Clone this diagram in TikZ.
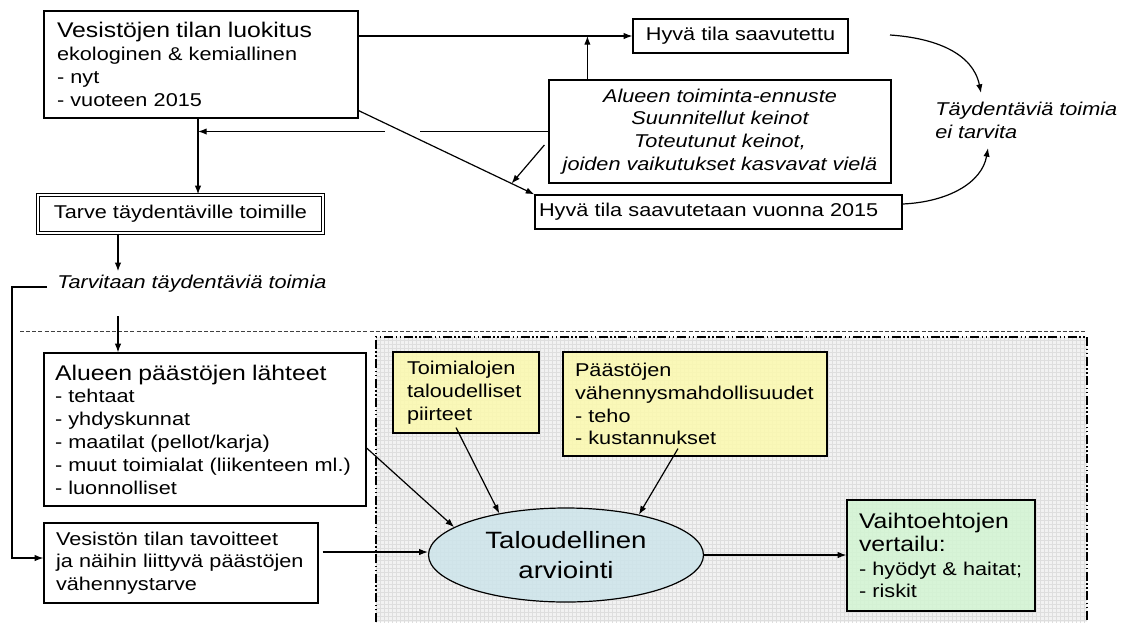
\documentclass[tikz,border=0pt]{standalone}
\usepackage{fontspec}
\setmainfont{Liberation Sans}
\newfontfamily\af[FakeStretch=1.17]{Liberation Sans}
\usetikzlibrary{arrows.meta,calc,shapes.geometric}
\newdimen\px \px=0.75pt
\definecolor{yel}{HTML}{FCFAAE}
\definecolor{grn}{HTML}{D3F5D3}
\definecolor{blu}{HTML}{CDE5EA}
\definecolor{panelbg}{HTML}{F2F2F2}
\definecolor{gridc}{HTML}{DEDEDE}
\newcommand\fbody{\af\fontsize{13.9}{17.1}\selectfont\hyphenpenalty=10000 \exhyphenpenalty=10000 }
\newcommand\ftitle{\fontsize{15.9}{17.1}\selectfont}
\newcommand\fbig{\af\fontsize{17.7}{22.5}\selectfont}
\tikzset{
  box/.style={draw, fill=white, line width=0.9pt, inner ysep=0pt, font=\fbody},
  lbox/.style={box, align=left},
  colbox/.style={lbox, fill=#1, fill opacity=0.85, text opacity=1},
  txt/.style={inner sep=3\px, font=\fbody\itshape},
  conn/.style={line width=0.9pt, -{Latex[length=6.5pt,width=4.8pt]}},
  panelborder/.style={line width=1.5pt, dash pattern=on 6.75pt off 1.9pt on 1.1pt off 1.9pt on 1.1pt off 1.9pt},
}
\begin{document}
\begin{tikzpicture}[x=0.75pt,y=-0.75pt]
\useasboundingbox (0,0) rectangle (1123,622);
% panel
\fill[panelbg] (376,337) rectangle (1087,622);
\begin{scope}
  \clip (376,337) rectangle (1087,622);
  \draw[gridc, line width=0.3pt, step=3pt] (370,330) grid (1090,630);
\end{scope}
\draw[panelborder] (376,622) -- (376,337) -- (1087,337) -- (1087,622);
\draw[black!75, line width=0.75pt, dash pattern=on 3pt off 1.6pt] (20,331) -- (1087,331);

% nodes
\node[lbox, minimum width=314\px, minimum height=107\px, text width=288\px, inner xsep=13\px] (A) at (201,64.5)
  {{\ftitle Vesistöjen tilan luokitus}\\ ekologinen \& kemiallinen\\ - nyt\\ - vuoteen 2015};
\node[box, double, double distance=1.5pt, line width=0.6pt, minimum width=285\px, minimum height=38.5\px] (T) at (180.5,214)
  {Tarve täydentäville toimille};
\node[box, minimum width=215\px, minimum height=34\px] (H1) at (740.5,36) {Hyvä tila saavutettu};
\node[box, align=center, minimum width=342\px, minimum height=103\px, font=\fbody\itshape] (AL) at (720,131.5)
  {Alueen toiminta-ennuste\\ Suunnitellut keinot\\ Toteutunut keinot,\\ joiden vaikutukset kasvavat vielä};
\node[lbox, minimum width=367\px, minimum height=34\px, text width=359\px, inner xsep=4\px] (H2) at (718.5,212)
  {\mbox{Hyvä tila saavutetaan vuonna 2015}};
\node[txt, align=left, anchor=west] (TR) at (932,120) {Täydentäviä toimia\\ ei tarvita};
\node[txt, anchor=base west] (TT) at (54,288) {Tarvitaan täydentäviä toimia};

\node[lbox, minimum width=322\px, minimum height=153\px, text width=300\px, inner xsep=11\px] (B1) at (205,429.5)
  {{\ftitle Alueen päästöjen lähteet}\\ - tehtaat\\ - yhdyskunnat\\ - maatilat (pellot/karja)\\ \mbox{- muut toimialat (liikenteen ml.)}\\ - luonnolliset};
\node[lbox, minimum width=274\px, minimum height=80\px, text width=250\px, inner xsep=12\px] (B2) at (181,563)
  {\mbox{Vesistön tilan tavoitteet}\\ \mbox{ja näihin liittyvä päästöjen}\\ vähennystarve};
\node[colbox=yel, minimum width=146\px, minimum height=81\px, text width=118\px, inner xsep=14\px] (Y1) at (466,392.5)
  {Toimialojen\\ taloudelliset\\ piirteet};
\node[colbox=yel, minimum width=264\px, minimum height=104\px, text width=240\px, inner xsep=12\px] (Y2) at (695,404)
  {Päästöjen\\ vähennysmahdollisuudet\\ - teho\\ - kustannukset};
\node[ellipse, draw, line width=0.9pt, fill=blu, fill opacity=0.85, text opacity=1, minimum width=275\px, minimum height=94\px, inner sep=0pt, align=center, font=\fbig] (E) at (566,555)
  {Taloudellinen\\ arviointi};
\node[colbox=grn, minimum width=188\px, minimum height=111\px, text width=164\px, inner xsep=12\px] (G) at (941,555.5)
  {{\ftitle Vaihtoehtojen}\\ {\ftitle vertailu:}\\[1pt] \mbox{- hyödyt \& haitat;}\\ - riskit};

% helper coordinates
\coordinate (x198) at (198,0);
\coordinate (x118) at (118,0);
\coordinate (s1) at (118,316);
\coordinate (c1) at (890,35);
\coordinate (k1) at (981,93);
\coordinate (k2) at (988,148);

% connectors (top)
\draw[conn] (A.east |- H1.west) -- (H1.west);
\draw[conn] ($(AL.north west)+(39,0)$) coordinate (p1) -- (p1 |- H1.west);
\draw[conn] (A.south -| x198) -- (T.north -| x198);
\draw[conn] (AL.west) -- (AL.west -| x198);
\fill[white] (385,129) rectangle (420,135);
\draw[conn] ($(A.south east)+(0,-8)$) coordinate (d0) -- (H2.north west);
\draw[conn] ($(AL.west)+(-4,13.5)$) -- ($(d0)!0.87!(H2.north west)$);
\draw[conn] (c1) .. controls +(45,3) and +(-8,-40) .. (k1);
\draw[conn] ($(H2.east)+(0,-8)$) .. controls +(45,-2) and +(-6,35) .. (k2);

% connectors (left)
\draw[conn] (T.south -| x118) -- (TT.north -| x118);
\draw[conn] ($(TT.base west)+(-7,-1)$) -- ++(-35,0) |- ($(B2.west)+(0,-5)$);
\draw[conn] (s1) -- (s1 |- B1.north);

% connectors (panel)
\draw[conn] ($(B2.east)+(4,-11)$) coordinate (b2e) -- (b2e -| E.west);
\draw[conn] ($(B1.east)+(0,18.5)$) -- (E.166);
\draw[conn] ($(Y1.south)+(-10,-6)$) -- (E.148);
\draw[conn] ($(Y2.south)+(-17,-8)$) -- (E.29);
\draw[conn] (E.east) -- (G.west |- E.east);
\end{tikzpicture}
\end{document}
